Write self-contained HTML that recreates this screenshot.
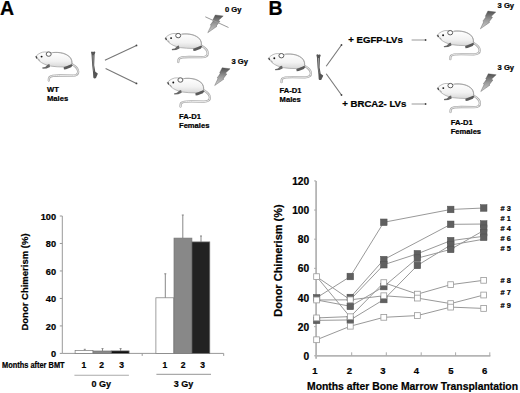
<!DOCTYPE html>
<html><head><meta charset="utf-8"><style>
html,body{margin:0;padding:0;background:#fff;}
svg{display:block;}
text{font-family:"Liberation Sans",sans-serif;font-weight:bold;stroke:#000;stroke-width:0.22px;}
</style></head><body>
<svg width="520" height="393" viewBox="0 0 520 393">

<defs>
 <linearGradient id="bg" x1="0" y1="0" x2="0" y2="1">
  <stop offset="0" stop-color="#ffffff"/><stop offset="0.6" stop-color="#f2f2f2"/><stop offset="1" stop-color="#d8d8d8"/>
 </linearGradient>
 <linearGradient id="boltg" x1="0" y1="0" x2="0" y2="1">
  <stop offset="0" stop-color="#505050"/><stop offset="0.5" stop-color="#9a9a9a"/><stop offset="1" stop-color="#d0d0d0"/>
 </linearGradient>
 <symbol id="mouse" overflow="visible">
  <path d="M36.4,7.6 C40,9.6 42.6,12 42.6,15 C42.6,18 40,19 36.7,19 L24,18.8 C18,18.8 15,19.3 13.9,20.5 C13.3,21.2 13.2,22.5 13.2,23.9" fill="none" stroke="#a8a8a8" stroke-width="2.3" stroke-linecap="round"/>
  <path d="M36.4,7.6 C40,9.6 42.6,12 42.6,15 C42.6,18 40,19 36.7,19 L24,18.8 C18,18.8 15,19.3 13.9,20.5 C13.3,21.2 13.2,22.5 13.2,23.9" fill="none" stroke="#f2f2f2" stroke-width="0.9" stroke-linecap="round"/>
  <path d="M0,0 C1.3,-1.7 3.8,-3.7 7,-4.5 C9.5,-5 12,-4.6 15,-3.8 C19,-4.6 24,-4.5 28,-3.4 C32,-2.2 35.3,0.5 36.2,4 C36.6,6 36.4,7.6 35.6,8.8 C33,9.6 30,10.3 28,10.3 C24,10.2 19,10.1 15,9.4 C10.5,8.5 6.5,6.7 4,4.5 C2.6,3.2 1,1.6 0,0 Z" fill="url(#bg)" stroke="#8e8e8e" stroke-width="0.6"/>
  <path d="M17,-4.1 C24,-4.9 31,-3 34.8,1 C36,2.8 36.4,5 36.2,7" fill="none" stroke="#999" stroke-width="0.7"/>
  <ellipse cx="13.1" cy="-2.6" rx="2.5" ry="2.2" fill="#fff" stroke="#555" stroke-width="0.95"/>
  <circle cx="6" cy="-0.1" r="0.95" fill="#111"/>
  <path d="M0.5,-0.4 L1.4,1.8" stroke="#444" stroke-width="1.3" fill="none"/>
  <path d="M2.5,2.2 L4.5,4" stroke="#999" stroke-width="1" fill="none"/>
  <path d="M12.3,7.8 L13.8,7.4 L14.4,10.2 L11,11.7 L7,12.0 L6.6,10.9 L9.6,10.2 Z" fill="#666"/>
  <path d="M28,10.6 L31.5,9.4 L35.6,7.6 L37.2,8.4 L35.6,10.6 L30.5,12.6 L28.4,12.9 Z" fill="#5a5a5a"/>
 </symbol>
 <symbol id="bone" overflow="visible">
  <path d="M0,1 C0.2,0 1.5,-0.1 2,0.8 C2.6,0 4.2,0.1 4.3,1.3 L3.6,3.2 L3.2,14 L4.3,20.5 L6.8,22.3 C6.6,23.6 5.6,25 5,26.8 C4.2,27.6 2.7,27.4 2.3,26.3 L2,21.2 L1.2,14 L0.5,3.2 Z" fill="#555"/>
  <path d="M1.5,4 L2.7,4 L2.4,14 L3,20 L2.6,20 L1.9,14 Z" fill="#999"/>
 </symbol>
 <symbol id="bolt" overflow="visible">
  <path d="M0,0 L7.9,1 L3.1,5.4 L4.6,6.2 L1,10.9 L1.7,11.3 L-7.5,17.7 L-4.2,10.7 L-5,10.1 L-2.0,5.8 L-2.6,5.2 Z" fill="url(#boltg)" stroke="#555" stroke-width="0.4"/>
 </symbol>
</defs>

<rect width="520" height="393" fill="#fff"/>
<text x="0" y="15.3" font-size="19.5" text-anchor="start" fill="#000" >A</text>
<text x="268.5" y="15" font-size="19.5" text-anchor="start" fill="#000" >B</text>
<use href="#mouse" x="35.6" y="56.7"/>
<use href="#mouse" x="165.1" y="38.2"/>
<use href="#mouse" x="167.3" y="82.6"/>
<use href="#mouse" x="268.3" y="58.3"/>
<use href="#mouse" x="437.1" y="35.3"/>
<use href="#mouse" x="437.3" y="88.2"/>
<use href="#bone" x="91" y="51.3"/>
<use href="#bone" transform="translate(316.4,54.2) scale(1,0.95)"/>
<line x1="104.9" y1="60.2" x2="136.5" y2="45.4" stroke="#777" stroke-width="1.1"/>
<circle cx="136.5" cy="45.4" r="0.9" fill="#444"/>
<line x1="105.6" y1="68.6" x2="136.5" y2="83.4" stroke="#777" stroke-width="1.1"/>
<circle cx="136.5" cy="83.4" r="0.9" fill="#444"/>
<line x1="326.2" y1="66.2" x2="341.5" y2="45" stroke="#777" stroke-width="1.1"/>
<circle cx="341.5" cy="45" r="0.9" fill="#444"/>
<line x1="326.2" y1="73.7" x2="341.5" y2="95" stroke="#777" stroke-width="1.1"/>
<circle cx="341.5" cy="95" r="0.9" fill="#444"/>
<line x1="411.6" y1="40" x2="425.6" y2="40" stroke="#bbb" stroke-width="1.5"/>
<circle cx="425.6" cy="40" r="0.9" fill="#444"/>
<line x1="411.6" y1="104" x2="425.6" y2="104" stroke="#bbb" stroke-width="1.5"/>
<circle cx="425.6" cy="104" r="0.9" fill="#444"/>
<use href="#bolt" x="215.3" y="15"/>
<use href="#bolt" x="222.2" y="67.8"/>
<use href="#bolt" x="487.9" y="11.1"/>
<use href="#bolt" x="488.3" y="73.8"/>
<line x1="205.3" y1="16.8" x2="228.5" y2="27.5" stroke="#999" stroke-width="1"/>
<text x="47" y="91.9" font-size="7.6" text-anchor="start" fill="#000" >WT</text>
<text x="47" y="100.9" font-size="7.6" text-anchor="start" fill="#000" >Males</text>
<text x="179" y="118.7" font-size="7.6" text-anchor="start" fill="#000" >FA-D1</text>
<text x="179" y="127.6" font-size="7.6" text-anchor="start" fill="#000" >Females</text>
<text x="225" y="11.5" font-size="7.6" text-anchor="start" fill="#000" >0 Gy</text>
<text x="231.5" y="63.7" font-size="7.6" text-anchor="start" fill="#000" >3 Gy</text>
<text x="279.6" y="92.7" font-size="7.6" text-anchor="start" fill="#000" >FA-D1</text>
<text x="279.6" y="101.5" font-size="7.6" text-anchor="start" fill="#000" >Males</text>
<text x="450.7" y="124.9" font-size="7.6" text-anchor="start" fill="#000" >FA-D1</text>
<text x="450.7" y="133.6" font-size="7.6" text-anchor="start" fill="#000" >Females</text>
<text x="497.6" y="7.6" font-size="7.6" text-anchor="start" fill="#000" >3 Gy</text>
<text x="497.6" y="69.8" font-size="7.6" text-anchor="start" fill="#000" >3 Gy</text>
<text x="348.3" y="43.1" font-size="9.6" text-anchor="start" fill="#000" >+ EGFP-LVs</text>
<text x="342.3" y="106.9" font-size="9.6" text-anchor="start" fill="#000" >+ BRCA2- LVs</text>
<line x1="62.3" y1="216" x2="62.3" y2="353.4" stroke="#999" stroke-width="1.0"/>
<line x1="62.3" y1="353.4" x2="223.7" y2="353.4" stroke="#999" stroke-width="1"/>
<line x1="59.8" y1="353.4" x2="62.3" y2="353.4" stroke="#999" stroke-width="1"/>
<text x="56.1" y="357.4" font-size="9.2" text-anchor="end" fill="#000" >0</text>
<line x1="59.8" y1="325.92" x2="62.3" y2="325.92" stroke="#999" stroke-width="1"/>
<text x="56.1" y="329.92" font-size="9.2" text-anchor="end" fill="#000" >20</text>
<line x1="59.8" y1="298.44" x2="62.3" y2="298.44" stroke="#999" stroke-width="1"/>
<text x="56.1" y="302.44" font-size="9.2" text-anchor="end" fill="#000" >40</text>
<line x1="59.8" y1="270.96" x2="62.3" y2="270.96" stroke="#999" stroke-width="1"/>
<text x="56.1" y="274.96" font-size="9.2" text-anchor="end" fill="#000" >60</text>
<line x1="59.8" y1="243.48" x2="62.3" y2="243.48" stroke="#999" stroke-width="1"/>
<text x="56.1" y="247.48" font-size="9.2" text-anchor="end" fill="#000" >80</text>
<line x1="59.8" y1="216" x2="62.3" y2="216" stroke="#999" stroke-width="1"/>
<text x="56.1" y="220" font-size="9.2" text-anchor="end" fill="#000" >100</text>
<line x1="142.2" y1="353.4" x2="142.2" y2="355.9" stroke="#999" stroke-width="1"/>
<line x1="223.7" y1="353.4" x2="223.7" y2="355.9" stroke="#999" stroke-width="1"/>
<line x1="84.75" y1="349.3" x2="84.75" y2="350.5" stroke="#888" stroke-width="1"/>
<line x1="83.75" y1="349.3" x2="85.75" y2="349.3" stroke="#888" stroke-width="1"/>
<rect x="75.1" y="350.5" width="17.9" height="2.9" fill="#fff" stroke="#777" stroke-width="0.7"/>
<line x1="102.5" y1="348.6" x2="102.5" y2="351" stroke="#888" stroke-width="1"/>
<line x1="101.5" y1="348.6" x2="103.5" y2="348.6" stroke="#888" stroke-width="1"/>
<rect x="93.1" y="351" width="17.9" height="2.4" fill="#888" stroke="#777" stroke-width="0.7"/>
<line x1="120.6" y1="348.6" x2="120.6" y2="350.9" stroke="#888" stroke-width="1"/>
<line x1="119.6" y1="348.6" x2="121.6" y2="348.6" stroke="#888" stroke-width="1"/>
<rect x="111.2" y="350.9" width="17.9" height="2.5" fill="#111" stroke="#777" stroke-width="0.7"/>
<line x1="165.3" y1="273.8" x2="165.3" y2="297.8" stroke="#888" stroke-width="1"/>
<line x1="164.3" y1="273.8" x2="166.3" y2="273.8" stroke="#888" stroke-width="1"/>
<rect x="155.9" y="297.8" width="17.9" height="55.6" fill="#fff" stroke="#777" stroke-width="0.7"/>
<line x1="182.8" y1="215" x2="182.8" y2="238.1" stroke="#888" stroke-width="1"/>
<line x1="181.8" y1="215" x2="183.8" y2="215" stroke="#888" stroke-width="1"/>
<rect x="174" y="238.1" width="17.9" height="115.3" fill="#888" stroke="#777" stroke-width="0.7"/>
<line x1="201" y1="236" x2="201" y2="241.9" stroke="#888" stroke-width="1"/>
<line x1="200" y1="236" x2="202" y2="236" stroke="#888" stroke-width="1"/>
<rect x="191.9" y="241.9" width="17.9" height="111.5" fill="#222" stroke="#777" stroke-width="0.7"/>
<text x="28.3" y="282" font-size="9.5" text-anchor="middle" fill="#000" transform="rotate(-90 28.3 282)">Donor Chimerism (%)</text>
<text x="2" y="367.5" font-size="8.4" text-anchor="start" fill="#000" textLength="62.6" lengthAdjust="spacingAndGlyphs">Months after BMT</text>
<text x="83.8" y="368.4" font-size="8.5" text-anchor="middle" fill="#000" >1</text>
<text x="101.6" y="368.4" font-size="8.5" text-anchor="middle" fill="#000" >2</text>
<text x="121.5" y="368.4" font-size="8.5" text-anchor="middle" fill="#000" >3</text>
<text x="164.9" y="368.4" font-size="8.5" text-anchor="middle" fill="#000" >1</text>
<text x="183" y="368.4" font-size="8.5" text-anchor="middle" fill="#000" >2</text>
<text x="202.6" y="368.4" font-size="8.5" text-anchor="middle" fill="#000" >3</text>
<line x1="74.4" y1="375.3" x2="128.9" y2="375.3" stroke="#aaa" stroke-width="1.1"/>
<line x1="156.4" y1="374.4" x2="211" y2="374.4" stroke="#aaa" stroke-width="1.1"/>
<text x="101.2" y="387.3" font-size="9" text-anchor="middle" fill="#000" >0 Gy</text>
<text x="183.4" y="387.3" font-size="9" text-anchor="middle" fill="#000" >3 Gy</text>
<line x1="316.1" y1="180.9" x2="316.1" y2="358.8" stroke="#b5b5b5" stroke-width="1.8"/>
<line x1="316.1" y1="355.8" x2="490.4" y2="355.8" stroke="#b5b5b5" stroke-width="1.8"/>
<line x1="314.1" y1="355.8" x2="316.1" y2="355.8" stroke="#aaa" stroke-width="1"/>
<text x="309.2" y="359.8" font-size="10.2" text-anchor="end" fill="#000" >0</text>
<line x1="314.1" y1="326.65" x2="316.1" y2="326.65" stroke="#aaa" stroke-width="1"/>
<text x="309.2" y="330.65" font-size="10.2" text-anchor="end" fill="#000" >20</text>
<line x1="314.1" y1="297.5" x2="316.1" y2="297.5" stroke="#aaa" stroke-width="1"/>
<text x="309.2" y="301.5" font-size="10.2" text-anchor="end" fill="#000" >40</text>
<line x1="314.1" y1="268.35" x2="316.1" y2="268.35" stroke="#aaa" stroke-width="1"/>
<text x="309.2" y="272.35" font-size="10.2" text-anchor="end" fill="#000" >60</text>
<line x1="314.1" y1="239.2" x2="316.1" y2="239.2" stroke="#aaa" stroke-width="1"/>
<text x="309.2" y="243.2" font-size="10.2" text-anchor="end" fill="#000" >80</text>
<line x1="314.1" y1="210.05" x2="316.1" y2="210.05" stroke="#aaa" stroke-width="1"/>
<text x="309.2" y="214.05" font-size="10.2" text-anchor="end" fill="#000" >100</text>
<line x1="314.1" y1="180.9" x2="316.1" y2="180.9" stroke="#aaa" stroke-width="1"/>
<text x="309.2" y="184.9" font-size="10.2" text-anchor="end" fill="#000" >120</text>
<line x1="351.7" y1="352.3" x2="351.7" y2="355.8" stroke="#aaa" stroke-width="1"/>
<line x1="386.3" y1="352.3" x2="386.3" y2="355.8" stroke="#aaa" stroke-width="1"/>
<line x1="421.2" y1="352.3" x2="421.2" y2="355.8" stroke="#aaa" stroke-width="1"/>
<line x1="455.6" y1="352.3" x2="455.6" y2="355.8" stroke="#aaa" stroke-width="1"/>
<line x1="489.8" y1="352.3" x2="489.8" y2="355.8" stroke="#aaa" stroke-width="1"/>
<text x="314.8" y="373.8" font-size="9.5" text-anchor="middle" fill="#000" >1</text>
<text x="349.4" y="373.8" font-size="9.5" text-anchor="middle" fill="#000" >2</text>
<text x="383" y="373.8" font-size="9.5" text-anchor="middle" fill="#000" >3</text>
<text x="416.3" y="373.8" font-size="9.5" text-anchor="middle" fill="#000" >4</text>
<text x="450.8" y="373.8" font-size="9.5" text-anchor="middle" fill="#000" >5</text>
<text x="484.6" y="373.8" font-size="9.5" text-anchor="middle" fill="#000" >6</text>
<text x="307" y="390" font-size="10.5" text-anchor="start" fill="#000" textLength="211" lengthAdjust="spacingAndGlyphs">Months after Bone Marrow Transplantation</text>
<text x="282.3" y="260.5" font-size="11" text-anchor="middle" fill="#000" transform="rotate(-90 282.3 260.5)">Donor Chimerism (%)</text>
<line x1="316.6" y1="276.66" x2="350.3" y2="299.83" stroke="#999" stroke-width="1"/>
<line x1="316.6" y1="276.66" x2="350.3" y2="317.18" stroke="#999" stroke-width="1"/>
<line x1="316.6" y1="297.79" x2="350.3" y2="276.51" stroke="#999" stroke-width="1"/>
<line x1="316.6" y1="299.98" x2="350.3" y2="299.83" stroke="#999" stroke-width="1"/>
<line x1="316.6" y1="299.98" x2="350.3" y2="306.25" stroke="#999" stroke-width="1"/>
<line x1="316.6" y1="317.91" x2="350.3" y2="316.59" stroke="#999" stroke-width="1"/>
<line x1="316.6" y1="320.38" x2="350.3" y2="319.95" stroke="#999" stroke-width="1"/>
<line x1="316.6" y1="339.77" x2="350.3" y2="326.21" stroke="#999" stroke-width="1"/>
<line x1="350.3" y1="276.51" x2="383.8" y2="222.29" stroke="#999" stroke-width="1"/>
<line x1="350.3" y1="297.5" x2="383.8" y2="259.61" stroke="#999" stroke-width="1"/>
<line x1="350.3" y1="299.83" x2="383.8" y2="264.71" stroke="#999" stroke-width="1"/>
<line x1="350.3" y1="299.83" x2="383.8" y2="295.75" stroke="#999" stroke-width="1"/>
<line x1="350.3" y1="306.39" x2="383.8" y2="286.57" stroke="#999" stroke-width="1"/>
<line x1="350.3" y1="316.74" x2="383.8" y2="282.63" stroke="#999" stroke-width="1"/>
<line x1="350.3" y1="319.95" x2="383.8" y2="299.54" stroke="#999" stroke-width="1"/>
<line x1="350.3" y1="326.21" x2="383.8" y2="317.32" stroke="#999" stroke-width="1"/>
<line x1="383.8" y1="222.29" x2="450.7" y2="209.47" stroke="#999" stroke-width="1"/>
<line x1="383.8" y1="259.61" x2="450.7" y2="224.33" stroke="#999" stroke-width="1"/>
<line x1="383.8" y1="264.71" x2="417.4" y2="253.78" stroke="#999" stroke-width="1"/>
<line x1="383.8" y1="286.57" x2="417.4" y2="258.15" stroke="#999" stroke-width="1"/>
<line x1="383.8" y1="299.54" x2="417.4" y2="265.44" stroke="#999" stroke-width="1"/>
<line x1="383.8" y1="282.63" x2="417.4" y2="294.15" stroke="#999" stroke-width="1"/>
<line x1="383.8" y1="295.75" x2="417.4" y2="298.08" stroke="#999" stroke-width="1"/>
<line x1="383.8" y1="317.32" x2="417.4" y2="315.57" stroke="#999" stroke-width="1"/>
<line x1="417.4" y1="253.78" x2="450.7" y2="240.66" stroke="#999" stroke-width="1"/>
<line x1="417.4" y1="258.15" x2="450.7" y2="249.4" stroke="#999" stroke-width="1"/>
<line x1="417.4" y1="265.44" x2="450.7" y2="245.03" stroke="#999" stroke-width="1"/>
<line x1="417.4" y1="294.15" x2="450.7" y2="284.67" stroke="#999" stroke-width="1"/>
<line x1="417.4" y1="298.08" x2="450.7" y2="303.62" stroke="#999" stroke-width="1"/>
<line x1="417.4" y1="315.57" x2="450.7" y2="307.12" stroke="#999" stroke-width="1"/>
<line x1="450.7" y1="209.47" x2="483.7" y2="208.01" stroke="#999" stroke-width="1"/>
<line x1="450.7" y1="224.33" x2="483.7" y2="224.04" stroke="#999" stroke-width="1"/>
<line x1="450.7" y1="240.66" x2="483.7" y2="236.29" stroke="#999" stroke-width="1"/>
<line x1="450.7" y1="245.03" x2="483.7" y2="239.2" stroke="#999" stroke-width="1"/>
<line x1="450.7" y1="249.4" x2="483.7" y2="230.46" stroke="#999" stroke-width="1"/>
<line x1="450.7" y1="284.67" x2="483.7" y2="280.3" stroke="#999" stroke-width="1"/>
<line x1="450.7" y1="303.62" x2="483.7" y2="295.02" stroke="#999" stroke-width="1"/>
<line x1="450.7" y1="307.12" x2="483.7" y2="308.43" stroke="#999" stroke-width="1"/>
<rect x="313.3" y="294.49" width="6.6" height="6.6" fill="#606060" stroke="#505050" stroke-width="0.5"/>
<rect x="313.3" y="317.08" width="6.6" height="6.6" fill="#606060" stroke="#505050" stroke-width="0.5"/>
<rect x="347" y="273.21" width="6.6" height="6.6" fill="#606060" stroke="#505050" stroke-width="0.5"/>
<rect x="347" y="294.2" width="6.6" height="6.6" fill="#606060" stroke="#505050" stroke-width="0.5"/>
<rect x="347" y="303.09" width="6.6" height="6.6" fill="#606060" stroke="#505050" stroke-width="0.5"/>
<rect x="347" y="316.65" width="6.6" height="6.6" fill="#606060" stroke="#505050" stroke-width="0.5"/>
<rect x="380.5" y="218.99" width="6.6" height="6.6" fill="#606060" stroke="#505050" stroke-width="0.5"/>
<rect x="380.5" y="256.31" width="6.6" height="6.6" fill="#606060" stroke="#505050" stroke-width="0.5"/>
<rect x="380.5" y="261.41" width="6.6" height="6.6" fill="#606060" stroke="#505050" stroke-width="0.5"/>
<rect x="380.5" y="283.27" width="6.6" height="6.6" fill="#606060" stroke="#505050" stroke-width="0.5"/>
<rect x="380.5" y="296.24" width="6.6" height="6.6" fill="#606060" stroke="#505050" stroke-width="0.5"/>
<rect x="414.1" y="250.47" width="6.6" height="6.6" fill="#606060" stroke="#505050" stroke-width="0.5"/>
<rect x="414.1" y="254.85" width="6.6" height="6.6" fill="#606060" stroke="#505050" stroke-width="0.5"/>
<rect x="414.1" y="262.13" width="6.6" height="6.6" fill="#606060" stroke="#505050" stroke-width="0.5"/>
<rect x="447.4" y="206.17" width="6.6" height="6.6" fill="#606060" stroke="#505050" stroke-width="0.5"/>
<rect x="447.4" y="221.03" width="6.6" height="6.6" fill="#606060" stroke="#505050" stroke-width="0.5"/>
<rect x="447.4" y="237.36" width="6.6" height="6.6" fill="#606060" stroke="#505050" stroke-width="0.5"/>
<rect x="447.4" y="241.73" width="6.6" height="6.6" fill="#606060" stroke="#505050" stroke-width="0.5"/>
<rect x="447.4" y="246.1" width="6.6" height="6.6" fill="#606060" stroke="#505050" stroke-width="0.5"/>
<rect x="480.4" y="204.71" width="6.6" height="6.6" fill="#606060" stroke="#505050" stroke-width="0.5"/>
<rect x="480.4" y="220.74" width="6.6" height="6.6" fill="#606060" stroke="#505050" stroke-width="0.5"/>
<rect x="480.4" y="224.97" width="6.6" height="6.6" fill="#606060" stroke="#505050" stroke-width="0.5"/>
<rect x="480.4" y="229.34" width="6.6" height="6.6" fill="#606060" stroke="#505050" stroke-width="0.5"/>
<rect x="480.4" y="234.01" width="6.6" height="6.6" fill="#606060" stroke="#505050" stroke-width="0.5"/>
<rect x="313.7" y="273.76" width="5.8" height="5.8" fill="#fff" stroke="#999" stroke-width="0.8"/>
<rect x="313.7" y="297.08" width="5.8" height="5.8" fill="#fff" stroke="#999" stroke-width="0.8"/>
<rect x="313.7" y="315" width="5.8" height="5.8" fill="#fff" stroke="#999" stroke-width="0.8"/>
<rect x="313.7" y="336.87" width="5.8" height="5.8" fill="#fff" stroke="#999" stroke-width="0.8"/>
<rect x="347.4" y="296.93" width="5.8" height="5.8" fill="#fff" stroke="#999" stroke-width="0.8"/>
<rect x="347.4" y="313.84" width="5.8" height="5.8" fill="#fff" stroke="#999" stroke-width="0.8"/>
<rect x="347.4" y="323.31" width="5.8" height="5.8" fill="#fff" stroke="#999" stroke-width="0.8"/>
<rect x="380.9" y="279.73" width="5.8" height="5.8" fill="#fff" stroke="#999" stroke-width="0.8"/>
<rect x="380.9" y="292.85" width="5.8" height="5.8" fill="#fff" stroke="#999" stroke-width="0.8"/>
<rect x="380.9" y="314.42" width="5.8" height="5.8" fill="#fff" stroke="#999" stroke-width="0.8"/>
<rect x="414.5" y="291.25" width="5.8" height="5.8" fill="#fff" stroke="#999" stroke-width="0.8"/>
<rect x="414.5" y="295.18" width="5.8" height="5.8" fill="#fff" stroke="#999" stroke-width="0.8"/>
<rect x="414.5" y="312.67" width="5.8" height="5.8" fill="#fff" stroke="#999" stroke-width="0.8"/>
<rect x="447.8" y="281.77" width="5.8" height="5.8" fill="#fff" stroke="#999" stroke-width="0.8"/>
<rect x="447.8" y="300.72" width="5.8" height="5.8" fill="#fff" stroke="#999" stroke-width="0.8"/>
<rect x="447.8" y="304.22" width="5.8" height="5.8" fill="#fff" stroke="#999" stroke-width="0.8"/>
<rect x="480.8" y="277.4" width="5.8" height="5.8" fill="#fff" stroke="#999" stroke-width="0.8"/>
<rect x="480.8" y="292.12" width="5.8" height="5.8" fill="#fff" stroke="#999" stroke-width="0.8"/>
<rect x="480.8" y="305.53" width="5.8" height="5.8" fill="#fff" stroke="#999" stroke-width="0.8"/>
<text x="500.6" y="210.9" font-size="7.4" text-anchor="start" fill="#000" ># 3</text>
<text x="500.6" y="221" font-size="7.4" text-anchor="start" fill="#000" ># 1</text>
<text x="500.6" y="230.5" font-size="7.4" text-anchor="start" fill="#000" ># 4</text>
<text x="500.6" y="240.6" font-size="7.4" text-anchor="start" fill="#000" ># 6</text>
<text x="500.6" y="250.7" font-size="7.4" text-anchor="start" fill="#000" ># 5</text>
<text x="500.6" y="282.8" font-size="7.4" text-anchor="start" fill="#000" ># 8</text>
<text x="500.6" y="295" font-size="7.4" text-anchor="start" fill="#000" ># 7</text>
<text x="500.6" y="307.6" font-size="7.4" text-anchor="start" fill="#000" ># 9</text>
</svg>
</body></html>
